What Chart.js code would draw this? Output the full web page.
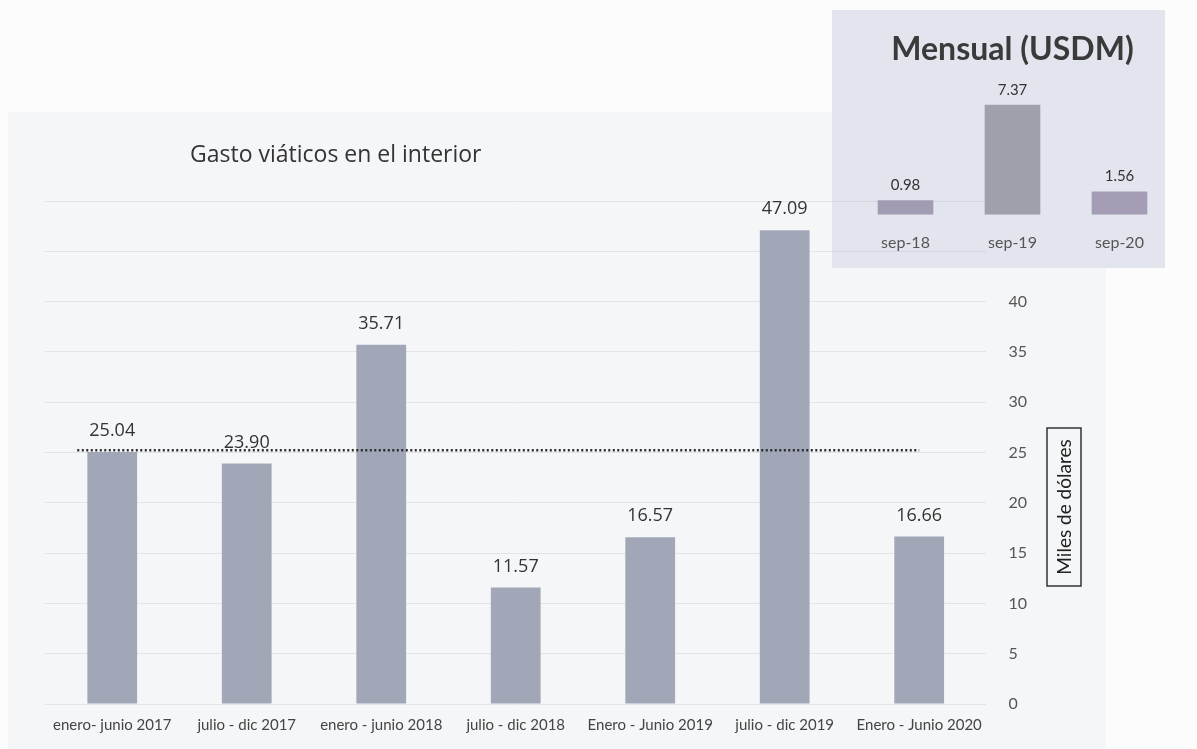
<!DOCTYPE html>
<html>
<head>
<meta charset="utf-8">
<script src="https://cdn.jsdelivr.net/npm/chart.js@4.4.1/dist/chart.umd.min.js"></script>
<style>
  body { margin: 0; background: #fcfcfd; }
  #panel { position: absolute; left: 8px; top: 112px; width: 1098px; height: 637px; background: #f5f6f8; }
  #inset { position: absolute; left: 832px; top: 10px; width: 333px; height: 258px; background: #e3e5ee; }
  #main { position: absolute; left: 0; top: 0; }
  #small { position: absolute; left: 832px; top: 0; }
</style>
</head>
<body>
<div id="panel"></div>
<div id="inset"></div>
<canvas id="main" width="1197" height="749"></canvas>
<canvas id="small" width="365" height="270"></canvas>
<script>
// periodos semestrales y gasto (miles de USD)
const periods = ['enero- junio 2017', 'julio - dic 2017', 'enero - junio 2018', 'julio - dic 2018',
                 'Enero - Junio 2019', 'julio - dic 2019', 'Enero - Junio 2020'];
const gasto = [25.04, 23.90, 35.71, 11.57, 16.57, 47.09, 16.66];
const promedio = 25.22;
const yTicksShown = [0, 5, 10, 15, 20, 25, 30, 35, 40];

// mensual
const months = ['sep-18', 'sep-19', 'sep-20'];
const mensual = [0.98, 7.37, 1.56];
const mensualColors = ['#a29cb2', '#9ea1ab', '#a59db6'];

// etiquetas de valor sobre las barras
const valueLabels = {
  id: 'valueLabels',
  afterDatasetsDraw(chart, args, opts) {
    const ctx = chart.ctx;
    const meta = chart.getDatasetMeta(0);
    const ds = chart.data.datasets[0];
    ctx.save();
    ctx.font = opts.font;
    ctx.fillStyle = opts.color;
    ctx.textAlign = 'center';
    ctx.textBaseline = 'middle';
    meta.data.forEach((bar, i) => {
      ctx.fillText(ds.data[i].toFixed(2), bar.x, bar.y - opts.offset);
    });
    ctx.restore();
  }
};

const mainDecor = {
  id: 'mainDecor',
  afterDraw(chart) {
    const ctx = chart.ctx;
    ctx.save();
    ctx.fillStyle = '#333';
    ctx.font = '23px "Open Sans"';
    ctx.textAlign = 'left';
    ctx.textBaseline = 'middle';
    ctx.fillText('Gasto viáticos en el interior', 190, 155);
    // titulo del eje dentro de un recuadro
    ctx.strokeStyle = '#333';
    ctx.lineWidth = 1.5;
    ctx.strokeRect(1047, 428, 34, 158);
    ctx.translate(1064, 507);
    ctx.rotate(-Math.PI / 2);
    ctx.textAlign = 'center';
    ctx.font = '19px Lato';
    ctx.fillStyle = '#222';
    ctx.fillText('Miles de dólares', 0, 1);
    ctx.restore();
  }
};

new Chart(document.getElementById('main'), {
  type: 'bar',
  data: {
    labels: periods,
    datasets: [{
      type: 'bar',
      data: gasto,
      backgroundColor: '#a1a7b7',
      grouped: false,
      categoryPercentage: 1,
      barPercentage: 0.37,
      order: 2
    }, {
      type: 'line',
      xAxisID: 'xAvg',
      data: [{ x: -0.26, y: promedio }, { x: 6.0, y: promedio }],
      borderColor: '#2a2a2a',
      borderWidth: 2.5,
      borderDash: [2, 2.5],
      pointRadius: 0,
      order: 1
    }]
  },
  options: {
    responsive: false,
    animation: false,
    layout: { padding: { left: 45, right: 148, top: 201, bottom: 3 } },
    plugins: {
      legend: { display: false },
      tooltip: { enabled: false },
      valueLabels: { font: '18px "Open Sans"', color: '#333', offset: 21 }
    },
    scales: {
      x: {
        grid: { display: false, drawTicks: false },
        border: { display: false },
        ticks: {
          autoSkip: false, maxRotation: 0, minRotation: 0, padding: 12,
          color: '#444', font: { family: 'Lato', size: 15 }
        }
      },
      xAvg: {
        type: 'linear', display: false, offset: false, min: -0.5, max: 6.5
      },
      y: {
        position: 'right',
        min: 0, max: 50,
        grid: { color: 'rgba(0,0,0,0.07)', drawTicks: false },
        border: { display: false },
        ticks: {
          stepSize: 5, padding: 22, color: '#555',
          font: { family: 'Lato', size: 16 },
          callback: v => yTicksShown.includes(v) ? v : ''
        }
      }
    }
  },
  plugins: [valueLabels, mainDecor]
});

new Chart(document.getElementById('small'), {
  type: 'bar',
  data: {
    labels: months,
    datasets: [{
      data: mensual,
      backgroundColor: mensualColors,
      categoryPercentage: 1,
      barPercentage: 0.52
    }]
  },
  options: {
    responsive: false,
    animation: false,
    layout: { padding: { left: 20, right: 24, top: 0, bottom: 0 } },
    plugins: {
      legend: { display: false },
      tooltip: { enabled: false },
      title: {
        display: true, text: 'Mensual (USDM)', color: '#3a3a3a',
        font: { family: 'Lato', size: 32, weight: 'bold' },
        padding: { top: 30, bottom: 27 }
      },
      valueLabels: { font: '15px Lato', color: '#333', offset: 15 }
    },
    scales: {
      x: {
        grid: { display: false, drawTicks: false },
        border: { display: false },
        ticks: { padding: 18, color: '#555', font: { family: 'Lato', size: 16 } }
      },
      y: { display: false, min: 0, max: 8 }
    }
  },
  plugins: [valueLabels]
});
</script>
</body>
</html>
